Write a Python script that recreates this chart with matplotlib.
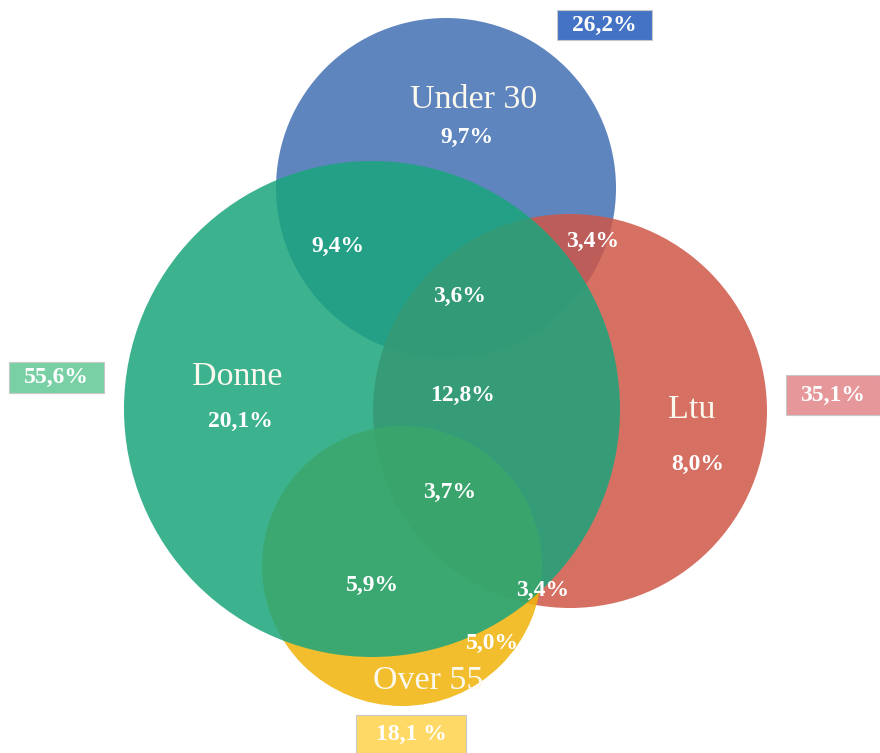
"""Four-set Venn diagram: Donne / Under 30 / Ltu / Over 55."""

import matplotlib.pyplot as plt
from matplotlib.patches import Circle, Rectangle

# sets: name, total share
set_names = ["Under 30", "Ltu", "Over 55", "Donne"]
set_totals = ["26,2%", "35,1%", "18,1 %", "55,6%"]

# exclusive regions and intersections
region_labels = ["9,7%", "20,1%", "8,0%", "9,4%", "3,4%", "3,6%",
                 "12,8%", "3,7%", "5,9%", "3,4%", "5,0%"]

# layout in pixel coordinates (drawing order: blue, red, yellow, green)
circle_centers = [(446, 188), (570, 411), (402, 566), (372, 409)]
circle_radii = [170, 197, 140, 248]
circle_colors = ["#4370b3", "#cf5748", "#f0b309", "#1aa57c"]
name_pos = [(474, 100), (692, 410), (428, 681), (237, 377)]
region_pos = [(467, 137), (240, 421), (698, 464), (338, 246), (593, 241),
              (460, 296), (463, 395), (450, 492), (372, 585), (543, 590),
              (492, 643)]
box_rects = [(557, 10, 95, 30), (786, 375, 94, 40), (356, 715, 110, 38),
             (9, 362, 95, 31)]
box_colors = ["#4472c4", "#e5979a", "#fed966", "#79d0a5"]


def main() -> None:
    plt.rcParams["font.family"] = ["Liberation Serif", "DejaVu Serif"]
    fig = plt.figure(figsize=(8.8, 7.53), dpi=100)
    ax = fig.add_axes([0, 0, 1, 1])
    ax.set_xlim(0, 880)
    ax.set_ylim(753, 0)
    ax.set_aspect("equal")
    ax.axis("off")

    for center, r, color in zip(circle_centers, circle_radii, circle_colors):
        ax.add_patch(Circle(center, r, facecolor=color, edgecolor="none",
                            alpha=0.85, zorder=1))

    for name, (x, y) in zip(set_names, name_pos):
        ax.text(x, y, name, fontsize=24.5, color="#fbf8ee", ha="center",
                va="center", zorder=3)

    for label, (x, y) in zip(region_labels, region_pos):
        ax.text(x, y, label, fontsize=17, fontweight="bold", color="white",
                ha="center", va="center", zorder=3)

    for total, (x, y, w, h), color in zip(set_totals, box_rects, box_colors):
        ax.add_patch(Rectangle((x, y), w, h, facecolor=color,
                               edgecolor="#c8c8c8", linewidth=0.8, zorder=2))
        ax.text(x + w / 2, y + h / 2, total, fontsize=17, fontweight="bold",
                color="white", ha="center", va="center", zorder=3)

    fig.savefig("out.png", dpi=100)
    plt.close(fig)


if __name__ == "__main__":
    main()
